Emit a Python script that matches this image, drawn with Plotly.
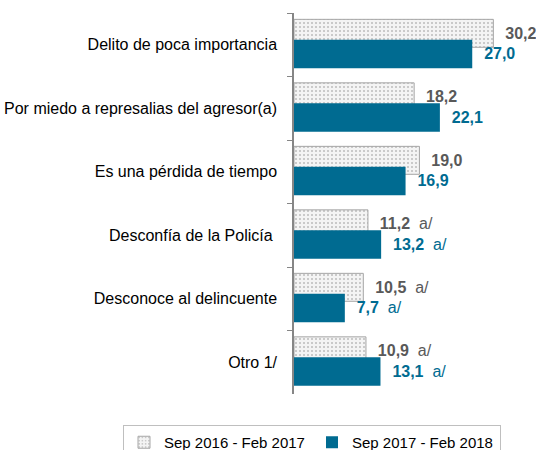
import plotly.graph_objects as go

categories = ["Delito de poca importancia", "Por miedo a represalias del agresor(a)",
              "Es una pérdida de tiempo", "Desconfía de la Policía\u00a0",
              "Desconoce al delincuente", "Otro 1/"]
values_2017 = [30.2, 18.2, 19.0, 11.2, 10.5, 10.9]
values_2018 = [27.0, 22.1, 16.9, 13.2, 7.7, 13.1]
suffix = ["", "", "", "a/", "a/", "a/"]
series_names = ["Sep 2016 - Feb 2017", "Sep 2017 - Feb 2018"]

GRAY_TXT = "#595959"
BLUE = "#006b91"
FONT = "Liberation Sans"
NB = "\u00a0"

def labels(vals):
    out = []
    for v, s in zip(vals, suffix):
        t = NB * 2 + "<b>" + f"{v:.1f}".replace(".", ",") + "</b>"
        if s:
            t += NB * 2 + s
        out.append(t)
    return out

L, R, T, B = 294, 6, 13, 56
W, H = 536, 450
pw, ph = W - L - R, H - T - B

fig = go.Figure()
fig.add_trace(go.Bar(
    y=categories, x=values_2017, orientation="h", name=series_names[0],
    offset=-0.40, width=0.44,
    marker=dict(color="#f2f2f2", line=dict(color="#a6a6a6", width=1),
                pattern=dict(shape=".", fgcolor="#8c8c8c", bgcolor="#f4f4f4",
                             size=4, solidity=0.22)),
    text=labels(values_2017), textposition="outside", cliponaxis=False,
    textfont=dict(family=FONT, size=16, color=GRAY_TXT),
))
fig.add_trace(go.Bar(
    y=categories, x=values_2018, orientation="h", name=series_names[1],
    offset=-0.08, width=0.45,
    marker=dict(color=BLUE, line=dict(width=0)),
    text=labels(values_2018), textposition="outside", cliponaxis=False,
    textfont=dict(family=FONT, size=16, color=BLUE),
))

fig.update_layout(
    width=W, height=H,
    margin=dict(l=L, r=R, t=T, b=B, autoexpand=False),
    barmode="overlay",
    paper_bgcolor="white", plot_bgcolor="white",
    font=dict(family=FONT, size=15, color="#000000"),
    xaxis=dict(visible=False, range=[0, 35.75], fixedrange=True, automargin=False),
    yaxis=dict(autorange="reversed", showline=True, linecolor="#868686", linewidth=1.5,
               ticks="outside", tickson="boundaries", ticklen=5, tickcolor="#868686",
               tickfont=dict(family=FONT, size=16, color="#000000"),
               ticklabelstandoff=12, showgrid=False, automargin=False, fixedrange=True),
    showlegend=True,
    legend=dict(orientation="h", xref="paper", yref="paper",
                x=(123 - L) / pw, y=-(425 - (H - B)) / ph, xanchor="left", yanchor="top",
                bordercolor="#bfbfbf", borderwidth=1,
                font=dict(family=FONT, size=15, color="#000000"),
                entrywidth=143, itemwidth=30, traceorder="normal"),
)

fig.write_html("out.html", config={"displayModeBar": False},
               post_script="document.body.style.margin='0';document.body.style.overflow='hidden';")
